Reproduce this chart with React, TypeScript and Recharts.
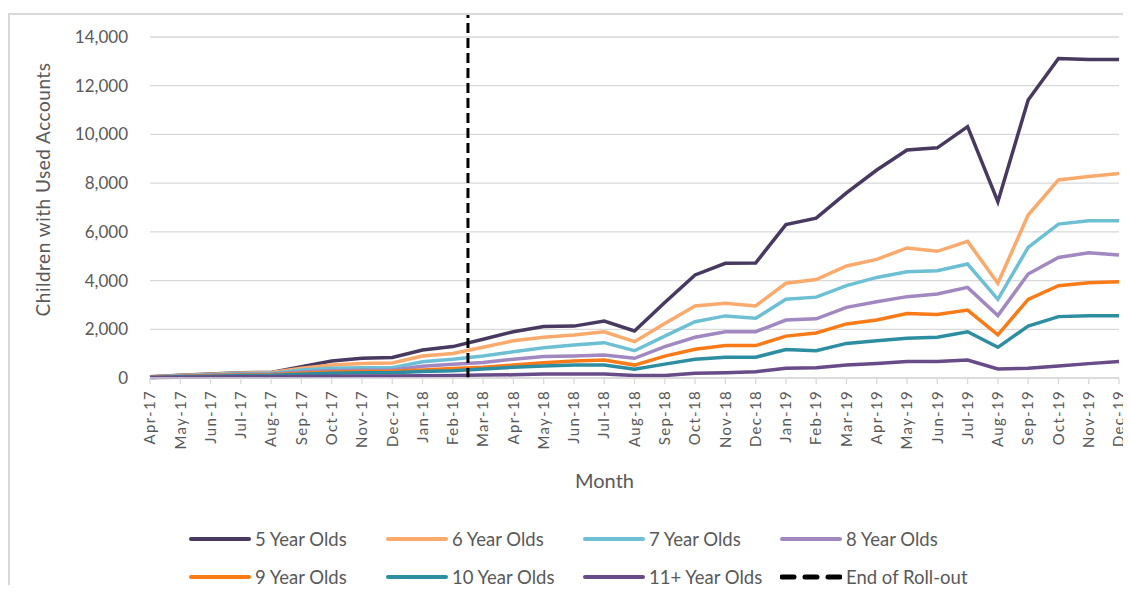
import { CartesianGrid, Label, Legend, Line, LineChart, ReferenceLine, XAxis, YAxis } from "recharts";

const months = [
  "Apr-17", "May-17", "Jun-17", "Jul-17", "Aug-17", "Sep-17", "Oct-17", "Nov-17", "Dec-17",
  "Jan-18", "Feb-18", "Mar-18", "Apr-18", "May-18", "Jun-18", "Jul-18", "Aug-18", "Sep-18",
  "Oct-18", "Nov-18", "Dec-18", "Jan-19", "Feb-19", "Mar-19", "Apr-19", "May-19", "Jun-19",
  "Jul-19", "Aug-19", "Sep-19", "Oct-19", "Nov-19", "Dec-19",
];

const fiveYear = [50, 110, 160, 220, 230, 460, 700, 810, 840, 1150, 1290, 1590, 1900, 2110, 2130, 2340, 1930, 3100, 4230, 4710, 4720, 6300, 6560, 7600, 8540, 9360, 9450, 10320, 7240, 11410, 13120, 13080, 13080];
const sixYear = [40, 100, 150, 210, 230, 400, 530, 600, 620, 900, 1010, 1260, 1530, 1670, 1770, 1900, 1490, 2240, 2960, 3070, 2960, 3890, 4040, 4600, 4870, 5340, 5200, 5610, 3890, 6690, 8130, 8270, 8400];
const sevenYear = [35, 90, 130, 180, 190, 330, 400, 420, 420, 670, 770, 900, 1080, 1240, 1350, 1450, 1120, 1720, 2310, 2550, 2450, 3230, 3320, 3790, 4130, 4360, 4400, 4680, 3230, 5360, 6320, 6460, 6460];
const eightYear = [30, 70, 110, 150, 160, 250, 300, 320, 330, 480, 560, 640, 770, 880, 900, 940, 810, 1290, 1670, 1900, 1900, 2380, 2430, 2900, 3130, 3340, 3450, 3720, 2560, 4270, 4950, 5140, 5050];
const nineYear = [30, 60, 90, 120, 130, 200, 250, 270, 280, 330, 390, 440, 530, 630, 700, 740, 530, 900, 1180, 1330, 1330, 1720, 1850, 2220, 2380, 2650, 2610, 2790, 1770, 3230, 3790, 3910, 3950];
const tenYear = [25, 50, 70, 100, 110, 150, 200, 220, 220, 270, 300, 370, 440, 490, 530, 530, 360, 570, 770, 850, 850, 1170, 1120, 1420, 1530, 1630, 1670, 1900, 1260, 2130, 2520, 2560, 2560];
const elevenPlus = [20, 30, 40, 50, 50, 60, 70, 80, 80, 90, 100, 120, 130, 160, 160, 160, 100, 100, 190, 220, 260, 400, 420, 530, 600, 680, 680, 740, 370, 400, 490, 590, 680];

const yTicks = [0, 2000, 4000, 6000, 8000, 10000, 12000, 14000];
// roll-out ended between Feb-18 and Mar-18
const rollOutEnd = 10.5;

const series = [
  { key: "y5", name: "5 Year Olds", color: "#47395f", values: fiveYear },
  { key: "y6", name: "6 Year Olds", color: "#f9aa6c", values: sixYear },
  { key: "y7", name: "7 Year Olds", color: "#6dc0d4", values: sevenYear },
  { key: "y8", name: "8 Year Olds", color: "#a188c0", values: eightYear },
  { key: "y9", name: "9 Year Olds", color: "#f97b18", values: nineYear },
  { key: "y10", name: "10 Year Olds", color: "#2e8ea1", values: tenYear },
  { key: "y11", name: "11+ Year Olds", color: "#684b89", values: elevenPlus },
];

const data = months.map((m, i) => {
  const row: Record<string, number | string> = { idx: i, month: m };
  series.forEach((s) => (row[s.key] = s.values[i]));
  return row;
});

const textColor = "#595959";
const font = "Lato, 'Noto Sans', sans-serif";

function MonthTick({ x, y, payload }: any) {
  return (
    <text
      transform={`translate(${x},${y}) rotate(-90)`}
      textAnchor="end"
      dy="0.35em"
      fill={textColor}
      fontSize={15}
      letterSpacing={1.3}
      fontFamily={font}
    >
      {months[payload.value]}
    </text>
  );
}

function ChartLegend() {
  const items = [
    ...series.map((s) => ({ name: s.name, color: s.color, dashed: false })),
    { name: "End of Roll-out", color: "#000000", dashed: true },
  ];
  return (
    <div style={{ display: "grid", gridTemplateColumns: "repeat(4, 197px)" }}>
      {items.map((it) => (
        <div key={it.name} style={{ display: "flex", alignItems: "center", height: 38 }}>
          <svg width={62} height={8}>
            <line
              x1={2}
              x2={60}
              y1={4}
              y2={4}
              stroke={it.color}
              strokeWidth={it.dashed ? 5 : 4}
              strokeLinecap="round"
              strokeDasharray={it.dashed ? "12 11" : undefined}
            />
          </svg>
          <span style={{ marginLeft: 4, fontSize: 18.5, color: textColor, fontFamily: font, whiteSpace: "nowrap" }}>
            {it.name}
          </span>
        </div>
      ))}
    </div>
  );
}

export default function App() {
  return (
    <div
      style={{
        position: "relative",
        top: 5,
        width: 1121,
        height: 575,
        borderTop: "2px solid #d9d9d9",
        borderLeft: "2px solid #d9d9d9",
        fontFamily: font,
      }}
    >
      <LineChart width={1119} height={575} data={data} margin={{ top: 22, right: 10, bottom: 92, left: 0 }}>
        <CartesianGrid vertical={false} stroke="#d9d9d9" strokeWidth={1.3} />
        <XAxis
          dataKey="idx"
          type="number"
          domain={[0, months.length - 1]}
          ticks={months.map((_, i) => i)}
          interval={0}
          height={120}
          stroke="#d9d9d9"
          strokeWidth={1.3}
          tickSize={6}
          tickMargin={6}
          tick={<MonthTick />}
        >
          <Label
            content={({ viewBox }: any) => (
              <text
                x={viewBox.x + viewBox.width / 2 - 30}
                y={viewBox.y + 110}
                textAnchor="middle"
                fill={textColor}
                fontSize={20}
                fontFamily={font}
              >
                Month
              </text>
            )}
          />
        </XAxis>
        <YAxis
          domain={[0, 14000]}
          ticks={yTicks}
          width={140}
          axisLine={false}
          tickLine={false}
          tickSize={0}
          tickMargin={22}
          tick={{ fill: textColor, fontSize: 17, fontFamily: font }}
          tickFormatter={(v: number) => v.toLocaleString("en-US")}
        >
          <Label
            content={({ viewBox }: any) => (
              <text
                transform={`translate(40,${viewBox.y + viewBox.height / 2 - 18}) rotate(-90)`}
                textAnchor="middle"
                fill={textColor}
                fontSize={19}
                letterSpacing={0.5}
                fontFamily={font}
              >
                Children with Used Accounts
              </text>
            )}
          />
        </YAxis>
        {series.map((s) => (
          <Line
            key={s.key}
            dataKey={s.key}
            name={s.name}
            stroke={s.color}
            strokeWidth={3.5}
            dot={false}
            type="linear"
            isAnimationActive={false}
          />
        ))}
        <ReferenceLine
          segment={[
            { x: rollOutEnd, y: 0 },
            { x: rollOutEnd, y: 15000 },
          ]}
          ifOverflow="visible"
          stroke="#000000"
          strokeWidth={3}
          strokeDasharray="10 5"
        />
        <Legend
          layout="horizontal"
          verticalAlign="middle"
          align="center"
          content={() => <ChartLegend />}
          wrapperStyle={{ position: "absolute", top: 505, left: 179, width: 800 }}
        />
      </LineChart>
    </div>
  );
}
